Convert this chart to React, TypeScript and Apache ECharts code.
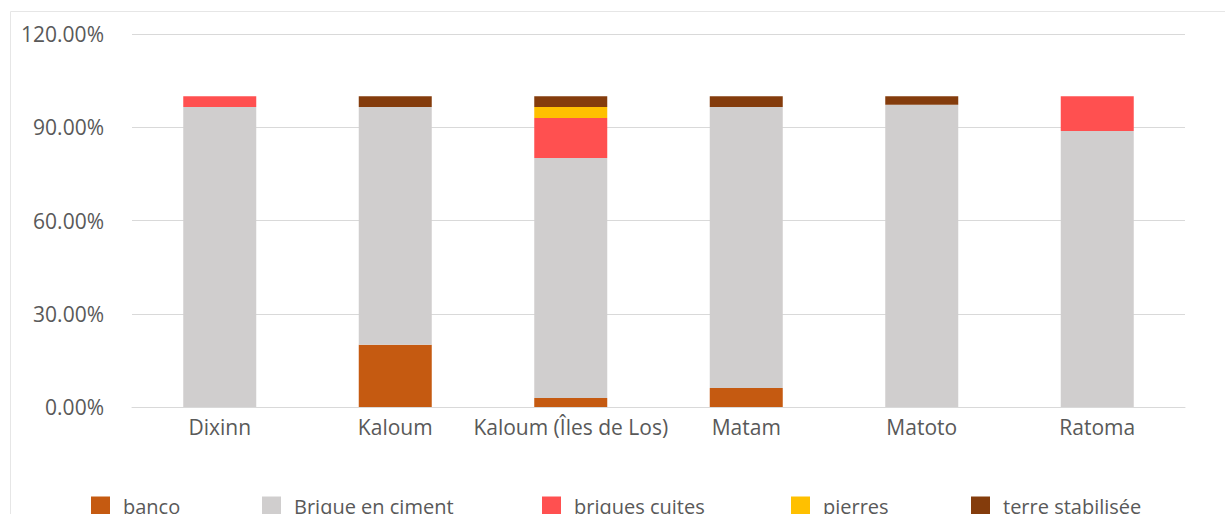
import React, { useEffect, useRef } from "react";
import * as echarts from "echarts";

const categories = ["Dixinn", "Kaloum", "Kaloum (Îles de Los)", "Matam", "Matoto", "Ratoma"];
const seriesNames = ["banco", "Brique en ciment", "briques cuites", "pierres", "terre stabilisée"];
const banco = [0, 20.0, 2.9, 6.1, 0, 0];
const briqueCiment = [96.5, 76.5, 77.2, 90.4, 97.2, 88.8];
const briquesCuites = [3.5, 0, 12.9, 0, 0, 11.2];
const pierres = [0, 0, 3.5, 0, 0, 0];
const terreStabilisee = [0, 3.5, 3.5, 3.5, 2.8, 0];
const yTicks = { min: 0, max: 120, interval: 30 };

const colors = ["#C55A11", "#D0CECE", "#FF5050", "#FFC000", "#843C0C"];
const legendLeft = [91, 262, 542, 791, 971];
const FONT = "Open Sans";

export default function App() {
  const ref = useRef<HTMLDivElement>(null);
  useEffect(() => {
    if (!ref.current) return;
    const chart = echarts.init(ref.current, null, { renderer: "svg" });
    const data = [banco, briqueCiment, briquesCuites, pierres, terreStabilisee];
    chart.setOption({
      animation: false,
      backgroundColor: "#ffffff",
      textStyle: { fontFamily: FONT },
      graphic: [
        {
          type: "rect",
          shape: { x: 10.5, y: 11.5, width: 1300, height: 600 },
          style: { fill: "none", stroke: "#E6E6E6", lineWidth: 1 },
          silent: true,
        },
      ],
      grid: { left: 132, right: 40, top: 34, bottom: 107, containLabel: false },
      legend: seriesNames.map((n, i) => ({
        data: [n],
        left: legendLeft[i],
        top: 496,
        padding: 0,
        itemWidth: 19,
        itemHeight: 19,
        icon: "rect",
        selectedMode: false,
        textStyle: { fontFamily: FONT, fontSize: 20, color: "#595959", padding: [0, 0, 0, 8] },
      })),
      xAxis: {
        type: "category",
        data: categories,
        axisTick: { show: false },
        axisLine: { lineStyle: { color: "#D9D9D9", width: 1 } },
        axisLabel: { fontFamily: FONT, fontSize: 21, color: "#595959", margin: 9, interval: 0 },
      },
      yAxis: {
        type: "value",
        min: yTicks.min,
        max: yTicks.max,
        interval: yTicks.interval,
        axisLine: { show: false },
        axisTick: { show: false },
        splitLine: { lineStyle: { color: "#D9D9D9", width: 1 } },
        axisLabel: {
          fontFamily: FONT,
          fontSize: 21,
          color: "#595959",
          margin: 28,
          formatter: (v: number) => v.toFixed(2) + "%",
        },
      },
      series: seriesNames.map((n, i) => ({
        name: n,
        type: "bar",
        stack: "total",
        barWidth: 73,
        data: data[i],
        itemStyle: { color: colors[i] },
      })),
    });
    return () => chart.dispose();
  }, []);
  return (
    <div
      ref={ref}
      style={{ position: "fixed", left: 0, top: 0, width: 1225, height: 514, background: "#fff" }}
    />
  );
}
